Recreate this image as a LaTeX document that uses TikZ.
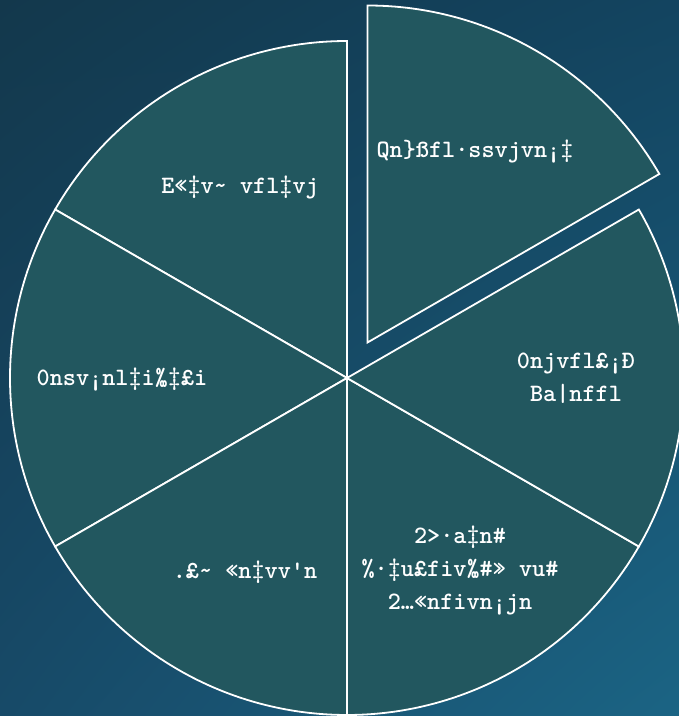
\documentclass[tikz,border=0pt]{standalone}
\usetikzlibrary{shadings}
\definecolor{bgTL}{RGB}{19,56,76}
\definecolor{bgTR}{RGB}{19,68,96}
\definecolor{bgBL}{RGB}{23,74,104}
\definecolor{bgBR}{RGB}{27,100,132}
\definecolor{wedge}{RGB}{34,87,95}
\tikzset{
  sector/.style={fill=wedge, draw=white, line width=1.8pt, line join=miter},
  lbl/.style={text=white, font=\ttfamily\bfseries\fontsize{25}{33}\selectfont, align=center, inner sep=0pt}
}
\begin{document}
\begin{tikzpicture}[x=1pt,y=1pt]
\useasboundingbox (0,0) rectangle (679,716);
\clip (0,0) rectangle (679,716);
\shade[upper left=bgTL, upper right=bgTR, lower left=bgBL, lower right=bgBR] (0,0) rectangle (679,716);
\coordinate (C) at (347,338);
\coordinate (Cx) at ([shift={(60:41pt)}]C);
% sectors
\foreach \a in {90,150,210,270,330} {
  \draw[sector] (C) -- ++(\a:337pt) arc[start angle=\a, end angle=\a+60, radius=337pt] -- cycle;
}
\draw[sector] (Cx) -- ++(30:337pt) arc[start angle=30, end angle=90, radius=337pt] -- cycle;
% labels
\node[lbl] (a) at (475,564) {Qn\}ßfl·ssvjvn¡‡};
\node[lbl] (b) at (240,529) {E«‡v\textasciitilde{} vfl‡vj};
\node[lbl] (c) at (122,336) {0nsv¡nl‡i‰‡£i};
\node[lbl] (d) at (576,338) {0njvfl£¡Ð\\Ba|nffl};
\node[lbl] (e) at (245,144) {.£\textasciitilde{} «n‡vv'n};
\node[lbl] (f) at (460,145) {2>·a‡n\#\\\%·‡u£fiv‰\#» vu\#\\2…«nfivn¡jn};
\end{tikzpicture}
\end{document}
